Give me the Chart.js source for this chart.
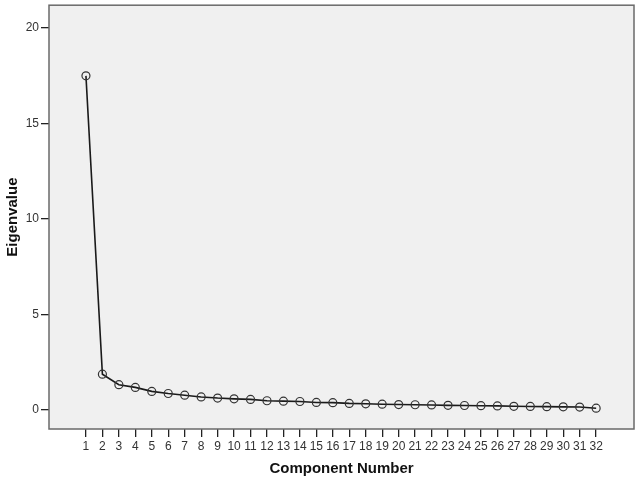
<!DOCTYPE html>
<html>
<head>
<meta charset="utf-8">
<script src="https://cdn.jsdelivr.net/npm/chart.js@4"></script>
<style>
html,body{margin:0;padding:0;background:#fff;}
#wrap{width:640px;height:482px;}
</style>
</head>
<body>
<div id="wrap"><canvas id="c" width="640" height="482"></canvas></div>
<script>
const components = [1,2,3,4,5,6,7,8,9,10,11,12,13,14,15,16,17,18,19,20,21,22,23,24,25,26,27,28,29,30,31,32];
const eigenvalues = [17.5,1.87,1.32,1.18,0.97,0.86,0.77,0.68,0.62,0.58,0.55,0.48,0.46,0.44,0.39,0.38,0.34,0.32,0.30,0.28,0.27,0.26,0.24,0.23,0.22,0.21,0.19,0.18,0.17,0.16,0.15,0.09];
const yTicks = [0,5,10,15,20];

const plotBox = {
  id:'plotBox',
  beforeDatasetsDraw(chart){
    const {ctx, chartArea:a} = chart;
    ctx.save();
    ctx.fillStyle = '#f0f0f0';
    ctx.fillRect(a.left, a.top, a.right-a.left, a.bottom-a.top);
    ctx.restore();
  },
  afterDatasetsDraw(chart){
    const {ctx, chartArea:a} = chart;
    ctx.save();
    ctx.strokeStyle = '#6a6a6a';
    ctx.lineWidth = 1.5;
    ctx.strokeRect(a.left, a.top, a.right-a.left, a.bottom-a.top);
    ctx.restore();
  }
};

new Chart(document.getElementById('c'), {
  type:'line',
  data:{
    datasets:[{
      data: components.map((c,i)=>({x:c, y:eigenvalues[i]})),
      borderColor:'#1a1a1a',
      borderWidth:1.6,
      pointRadius:4,
      pointBorderWidth:1.2,
      pointBorderColor:'#333',
      pointBackgroundColor:'rgba(0,0,0,0)',
      fill:false,
      tension:0
    }]
  },
  options:{
    responsive:false,
    animation:false,
    devicePixelRatio:1,
    layout:{padding:{top:5,right:6,left:0,bottom:0}},
    plugins:{legend:{display:false},tooltip:{enabled:false}},
    scales:{
      x:{
        type:'linear',
        min:-1.245, max:34.3,
        afterBuildTicks(s){ s.ticks = components.map(v=>({value:v})); },
        afterFit(s){ s.height = 53; s.paddingLeft = 0; s.paddingRight = 0; },
        grid:{drawOnChartArea:false, drawTicks:true, tickLength:8, color:'#222', lineWidth:1.3},
        border:{display:false},
        ticks:{autoSkip:false, maxRotation:0, padding:2, color:'#333', font:{family:'Liberation Sans, Arial', size:12}},
        title:{display:true, text:'Component Number', color:'#111', font:{family:'Liberation Sans, Arial', size:15, weight:'bold'}, padding:{top:4,bottom:4}}
      },
      y:{
        type:'linear',
        min:-1.0, max:21.2,
        afterBuildTicks(s){ s.ticks = yTicks.map(v=>({value:v})); },
        afterFit(s){ s.width = 49; s.paddingTop = 0; s.paddingBottom = 0; },
        grid:{drawOnChartArea:false, drawTicks:true, tickLength:8, color:'#222', lineWidth:1.3},
        border:{display:false},
        ticks:{padding:2, color:'#333', font:{family:'Liberation Sans, Arial', size:12}},
        title:{display:true, text:'Eigenvalue', color:'#111', font:{family:'Liberation Sans, Arial', size:15, weight:'bold'}, padding:{top:4,bottom:4}}
      }
    }
  },
  plugins:[plotBox]
});
</script>
</body>
</html>
